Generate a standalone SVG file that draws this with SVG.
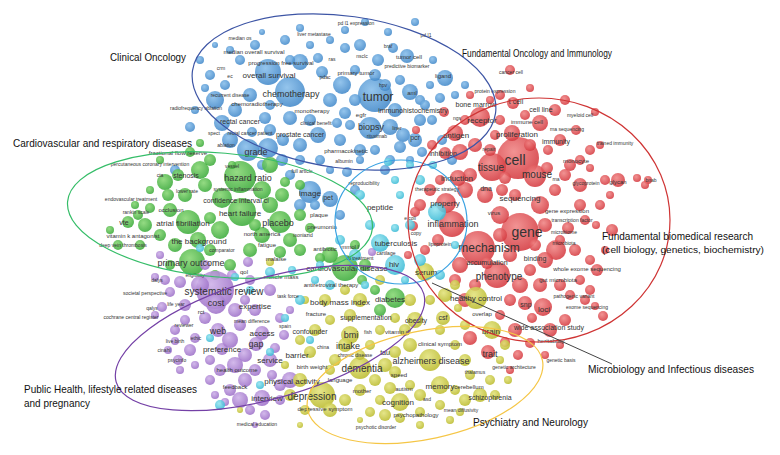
<svg xmlns="http://www.w3.org/2000/svg" width="780" height="455" viewBox="0 0 780 455">
<defs>
<radialGradient id="gb" cx="0.4" cy="0.35" r="0.7"><stop offset="0" stop-color="#86bdea"/><stop offset="1" stop-color="#3f86c8"/></radialGradient>
<radialGradient id="gr" cx="0.4" cy="0.35" r="0.7"><stop offset="0" stop-color="#f08484"/><stop offset="1" stop-color="#d3363c"/></radialGradient>
<radialGradient id="gg" cx="0.4" cy="0.35" r="0.7"><stop offset="0" stop-color="#86d672"/><stop offset="1" stop-color="#38a838"/></radialGradient>
<radialGradient id="gp" cx="0.4" cy="0.35" r="0.7"><stop offset="0" stop-color="#cdb0e8"/><stop offset="1" stop-color="#9a6cc6"/></radialGradient>
<radialGradient id="gy" cx="0.4" cy="0.35" r="0.7"><stop offset="0" stop-color="#e2e27a"/><stop offset="1" stop-color="#b9b92a"/></radialGradient>
<radialGradient id="gc" cx="0.4" cy="0.35" r="0.7"><stop offset="0" stop-color="#94e4f0"/><stop offset="1" stop-color="#36b8d4"/></radialGradient>
</defs>
<style>
.b{fill:url(#gb);fill-opacity:.88}
.r{fill:url(#gr);fill-opacity:.88}
.g{fill:url(#gg);fill-opacity:.88}
.p{fill:url(#gp);fill-opacity:.88}
.y{fill:url(#gy);fill-opacity:.88}
.c{fill:url(#gc);fill-opacity:.88}
text{font-family:"Liberation Sans",Arial,sans-serif;fill:#333;text-anchor:middle}
.t5{font-size:5px}.t6{font-size:6px}.t7{font-size:7px}.t8{font-size:8px}.t9{font-size:9px}.t10{font-size:10px}.t12{font-size:12px}.t14{font-size:14px}
.cl{font-family:"Liberation Sans",Arial,sans-serif;font-size:10.5px;fill:#111;text-anchor:start}
.el{fill:none;stroke-width:1.2}
</style>
<rect width="780" height="455" fill="#ffffff"/>

<g id="circles-blue">
<circle class="b" cx="268" cy="72" r="13"/><circle class="b" cx="290" cy="92" r="15"/><circle class="b" cx="375" cy="95" r="17"/><circle class="b" cx="342" cy="85" r="9"/><circle class="b" cx="322" cy="72" r="6"/><circle class="b" cx="300" cy="62" r="8"/><circle class="b" cx="345" cy="48" r="5"/><circle class="b" cx="360" cy="45" r="6"/><circle class="b" cx="345" cy="30" r="4"/><circle class="b" cx="300" cy="28" r="4"/><circle class="b" cx="407" cy="56" r="7"/><circle class="b" cx="393" cy="48" r="5"/><circle class="b" cx="445" cy="78" r="8"/><circle class="b" cx="410" cy="92" r="8"/><circle class="b" cx="400" cy="80" r="5"/><circle class="b" cx="420" cy="100" r="5"/><circle class="b" cx="378" cy="60" r="6"/><circle class="b" cx="355" cy="70" r="5"/><circle class="b" cx="330" cy="100" r="7"/><circle class="b" cx="345" cy="113" r="6"/><circle class="b" cx="370" cy="128" r="11"/><circle class="b" cx="390" cy="127" r="8"/><circle class="b" cx="403" cy="135" r="7"/><circle class="b" cx="415" cy="140" r="7"/><circle class="b" cx="432" cy="120" r="5"/><circle class="b" cx="395" cy="110" r="7"/><circle class="b" cx="425" cy="105" r="5"/><circle class="b" cx="360" cy="150" r="6"/><circle class="b" cx="340" cy="140" r="6"/><circle class="b" cx="318" cy="135" r="8"/><circle class="b" cx="300" cy="145" r="7"/><circle class="b" cx="283" cy="140" r="6"/><circle class="b" cx="268" cy="148" r="10"/><circle class="b" cx="248" cy="150" r="11"/><circle class="b" cx="230" cy="140" r="8"/><circle class="b" cx="222" cy="123" r="8"/><circle class="b" cx="215" cy="100" r="9"/><circle class="b" cx="235" cy="110" r="7"/><circle class="b" cx="250" cy="95" r="7"/><circle class="b" cx="225" cy="85" r="5"/><circle class="b" cx="210" cy="75" r="5"/><circle class="b" cx="200" cy="60" r="4"/><circle class="b" cx="240" cy="60" r="5"/><circle class="b" cx="255" cy="45" r="5"/><circle class="b" cx="285" cy="40" r="5"/><circle class="b" cx="310" cy="45" r="4"/><circle class="b" cx="318" cy="58" r="5"/><circle class="b" cx="375" cy="75" r="6"/><circle class="b" cx="385" cy="85" r="6"/><circle class="b" cx="355" cy="100" r="6"/><circle class="b" cx="337" cy="123" r="5"/><circle class="b" cx="310" cy="120" r="6"/><circle class="b" cx="290" cy="118" r="7"/><circle class="b" cx="265" cy="118" r="6"/><circle class="b" cx="270" cy="105" r="5"/><circle class="b" cx="300" cy="160" r="5"/><circle class="b" cx="320" cy="160" r="5"/><circle class="b" cx="330" cy="170" r="4"/><circle class="b" cx="347" cy="172" r="5"/><circle class="b" cx="290" cy="175" r="5"/><circle class="b" cx="310" cy="192" r="11"/><circle class="b" cx="330" cy="199" r="8"/><circle class="b" cx="300" cy="205" r="6"/><circle class="b" cx="315" cy="205" r="5"/><circle class="b" cx="282" cy="160" r="6"/><circle class="b" cx="262" cy="165" r="5"/><circle class="b" cx="375" cy="150" r="5"/><circle class="b" cx="390" cy="160" r="5"/><circle class="b" cx="400" cy="147" r="6"/><circle class="b" cx="410" cy="160" r="4"/><circle class="b" cx="350" cy="125" r="5"/><circle class="b" cx="205" cy="88" r="4"/><circle class="b" cx="195" cy="110" r="4"/><circle class="b" cx="190" cy="127" r="5"/><circle class="b" cx="430" cy="85" r="4"/><circle class="b" cx="455" cy="95" r="4"/><circle class="b" cx="465" cy="85" r="4"/><circle class="b" cx="440" cy="98" r="5"/><circle class="b" cx="420" cy="120" r="6"/><circle class="b" cx="442" cy="140" r="5"/><circle class="b" cx="452" cy="160" r="5"/><circle class="b" cx="422" cy="152" r="5"/><circle class="b" cx="385" cy="170" r="5"/><circle class="b" cx="355" cy="190" r="5"/><circle class="b" cx="340" cy="215" r="5"/><circle class="b" cx="290" cy="60" r="5"/><circle class="b" cx="230" cy="50" r="4"/><circle class="b" cx="215" cy="45" r="3"/><circle class="b" cx="330" cy="40" r="4"/><circle class="b" cx="415" cy="22" r="4"/><circle class="b" cx="388" cy="32" r="4"/><circle class="b" cx="270" cy="130" r="6"/><circle class="b" cx="252" cy="132" r="5"/><circle class="b" cx="365" cy="22" r="4"/><circle class="b" cx="175" cy="170" r="5"/><circle class="b" cx="262" cy="32" r="3"/><circle class="b" cx="433" cy="60" r="4"/><circle class="b" cx="360" cy="160" r="4"/>
</g>

<g id="circles-red">
<circle class="r" cx="518" cy="158" r="21"/><circle class="r" cx="520" cy="232" r="19"/><circle class="r" cx="478" cy="248" r="17"/><circle class="r" cx="492" cy="167" r="14"/><circle class="r" cx="535" cy="176" r="11"/><circle class="r" cx="497" cy="275" r="13"/><circle class="r" cx="480" cy="117" r="10"/><circle class="r" cx="452" cy="224" r="13"/><circle class="r" cx="446" cy="203" r="10"/><circle class="r" cx="556" cy="250" r="10"/><circle class="r" cx="540" cy="205" r="9"/><circle class="r" cx="512" cy="133" r="8"/><circle class="r" cx="455" cy="133" r="8"/><circle class="r" cx="543" cy="307" r="9"/><circle class="r" cx="488" cy="352" r="7"/><circle class="r" cx="513" cy="103" r="6"/><circle class="r" cx="540" cy="123" r="8"/><circle class="r" cx="555" cy="110" r="6"/><circle class="r" cx="525" cy="115" r="5"/><circle class="r" cx="500" cy="95" r="5"/><circle class="r" cx="470" cy="95" r="4"/><circle class="r" cx="510" cy="70" r="5"/><circle class="r" cx="530" cy="88" r="4"/><circle class="r" cx="565" cy="100" r="5"/><circle class="r" cx="595" cy="112" r="4"/><circle class="r" cx="576" cy="130" r="5"/><circle class="r" cx="560" cy="140" r="6"/><circle class="r" cx="590" cy="150" r="5"/><circle class="r" cx="580" cy="160" r="5"/><circle class="r" cx="570" cy="165" r="6"/><circle class="r" cx="590" cy="168" r="4"/><circle class="r" cx="565" cy="175" r="6"/><circle class="r" cx="580" cy="185" r="7"/><circle class="r" cx="605" cy="180" r="5"/><circle class="r" cx="618" cy="180" r="7"/><circle class="r" cx="637" cy="178" r="4"/><circle class="r" cx="648" cy="180" r="4"/><circle class="r" cx="580" cy="205" r="6"/><circle class="r" cx="600" cy="205" r="5"/><circle class="r" cx="585" cy="220" r="5"/><circle class="r" cx="596" cy="225" r="4"/><circle class="r" cx="568" cy="228" r="6"/><circle class="r" cx="560" cy="240" r="5"/><circle class="r" cx="575" cy="250" r="6"/><circle class="r" cx="590" cy="260" r="5"/><circle class="r" cx="597" cy="270" r="6"/><circle class="r" cx="580" cy="280" r="5"/><circle class="r" cx="560" cy="285" r="6"/><circle class="r" cx="570" cy="295" r="5"/><circle class="r" cx="585" cy="300" r="5"/><circle class="r" cx="595" cy="306" r="4"/><circle class="r" cx="603" cy="316" r="5"/><circle class="r" cx="565" cy="320" r="6"/><circle class="r" cx="550" cy="330" r="7"/><circle class="r" cx="532" cy="318" r="5"/><circle class="r" cx="525" cy="303" r="7"/><circle class="r" cx="510" cy="300" r="6"/><circle class="r" cx="520" cy="285" r="8"/><circle class="r" cx="540" cy="285" r="7"/><circle class="r" cx="530" cy="270" r="6"/><circle class="r" cx="545" cy="260" r="8"/><circle class="r" cx="535" cy="245" r="6"/><circle class="r" cx="545" cy="225" r="7"/><circle class="r" cx="500" cy="215" r="9"/><circle class="r" cx="485" cy="195" r="8"/><circle class="r" cx="502" cy="190" r="6"/><circle class="r" cx="515" cy="195" r="6"/><circle class="r" cx="465" cy="190" r="8"/><circle class="r" cx="470" cy="175" r="7"/><circle class="r" cx="458" cy="178" r="8"/><circle class="r" cx="440" cy="180" r="5"/><circle class="r" cx="430" cy="190" r="6"/><circle class="r" cx="420" cy="205" r="6"/><circle class="r" cx="460" cy="152" r="8"/><circle class="r" cx="475" cy="145" r="7"/><circle class="r" cx="490" cy="150" r="6"/><circle class="r" cx="445" cy="153" r="6"/><circle class="r" cx="432" cy="145" r="5"/><circle class="r" cx="500" cy="235" r="7"/><circle class="r" cx="460" cy="265" r="8"/><circle class="r" cx="475" cy="285" r="6"/><circle class="r" cx="465" cy="300" r="7"/><circle class="r" cx="455" cy="280" r="6"/><circle class="r" cx="487" cy="263" r="6"/><circle class="r" cx="510" cy="255" r="7"/><circle class="r" cx="500" cy="315" r="5"/><circle class="r" cx="515" cy="330" r="7"/><circle class="r" cx="530" cy="343" r="5"/><circle class="r" cx="505" cy="342" r="5"/><circle class="r" cx="470" cy="338" r="7"/><circle class="r" cx="547" cy="168" r="6"/><circle class="r" cx="555" cy="190" r="6"/><circle class="r" cx="530" cy="145" r="6"/><circle class="r" cx="548" cy="150" r="5"/><circle class="r" cx="505" cy="178" r="6"/><circle class="r" cx="425" cy="250" r="5"/><circle class="r" cx="438" cy="240" r="6"/><circle class="r" cx="408" cy="255" r="4"/><circle class="r" cx="415" cy="212" r="5"/><circle class="r" cx="413" cy="226" r="5"/><circle class="r" cx="500" cy="120" r="5"/><circle class="r" cx="495" cy="135" r="5"/><circle class="r" cx="465" cy="120" r="5"/><circle class="r" cx="490" cy="100" r="4"/><circle class="r" cx="444" cy="112" r="5"/><circle class="r" cx="416" cy="130" r="4"/><circle class="r" cx="518" cy="355" r="5"/><circle class="r" cx="545" cy="355" r="4"/><circle class="r" cx="560" cy="345" r="4"/><circle class="r" cx="510" cy="370" r="4"/><circle class="r" cx="600" cy="145" r="4"/><circle class="r" cx="645" cy="185" r="4"/><circle class="r" cx="610" cy="195" r="4"/><circle class="r" cx="590" cy="290" r="5"/><circle class="r" cx="612" cy="230" r="6"/><circle class="r" cx="605" cy="250" r="4"/>
</g>

<g id="circles-green">
<circle class="g" cx="240" cy="177" r="16"/><circle class="g" cx="242" cy="212" r="14"/><circle class="g" cx="280" cy="222" r="11"/><circle class="g" cx="188" cy="222" r="12"/><circle class="g" cx="222" cy="198" r="10"/><circle class="g" cx="192" cy="262" r="13"/><circle class="g" cx="198" cy="240" r="8"/><circle class="g" cx="128" cy="222" r="6"/><circle class="g" cx="345" cy="268" r="13"/><circle class="g" cx="395" cy="298" r="10"/><circle class="g" cx="165" cy="182" r="8"/><circle class="g" cx="178" cy="175" r="6"/><circle class="g" cx="200" cy="170" r="9"/><circle class="g" cx="210" cy="160" r="6"/><circle class="g" cx="190" cy="152" r="5"/><circle class="g" cx="160" cy="160" r="4"/><circle class="g" cx="205" cy="185" r="7"/><circle class="g" cx="270" cy="165" r="8"/><circle class="g" cx="262" cy="190" r="9"/><circle class="g" cx="282" cy="195" r="7"/><circle class="g" cx="270" cy="205" r="8"/><circle class="g" cx="262" cy="235" r="8"/><circle class="g" cx="290" cy="240" r="7"/><circle class="g" cx="300" cy="250" r="6"/><circle class="g" cx="280" cy="252" r="6"/><circle class="g" cx="250" cy="250" r="7"/><circle class="g" cx="220" cy="230" r="9"/><circle class="g" cx="210" cy="250" r="6"/><circle class="g" cx="175" cy="245" r="7"/><circle class="g" cx="160" cy="235" r="6"/><circle class="g" cx="145" cy="225" r="7"/><circle class="g" cx="170" cy="210" r="7"/><circle class="g" cx="150" cy="208" r="5"/><circle class="g" cx="135" cy="205" r="4"/><circle class="g" cx="110" cy="230" r="4"/><circle class="g" cx="118" cy="245" r="5"/><circle class="g" cx="140" cy="245" r="5"/><circle class="g" cx="138" cy="215" r="5"/><circle class="g" cx="168" cy="195" r="6"/><circle class="g" cx="185" cy="195" r="7"/><circle class="g" cx="255" cy="225" r="6"/><circle class="g" cx="300" cy="215" r="6"/><circle class="g" cx="310" cy="228" r="5"/><circle class="g" cx="330" cy="255" r="8"/><circle class="g" cx="355" cy="245" r="5"/><circle class="g" cx="365" cy="265" r="6"/><circle class="g" cx="362" cy="280" r="5"/><circle class="g" cx="380" cy="310" r="6"/><circle class="g" cx="375" cy="290" r="5"/><circle class="g" cx="320" cy="258" r="5"/><circle class="g" cx="230" cy="265" r="6"/><circle class="g" cx="215" cy="275" r="5"/><circle class="g" cx="170" cy="265" r="5"/><circle class="g" cx="210" cy="218" r="6"/><circle class="g" cx="150" cy="190" r="4"/><circle class="g" cx="300" cy="185" r="5"/><circle class="g" cx="285" cy="182" r="5"/><circle class="g" cx="232" cy="165" r="4"/><circle class="g" cx="200" cy="143" r="4"/>
</g>

<g id="circles-purple">
<circle class="p" cx="215" cy="290" r="19"/><circle class="p" cx="216" cy="304" r="10"/><circle class="p" cx="218" cy="330" r="7"/><circle class="p" cx="262" cy="333" r="7"/><circle class="p" cx="256" cy="344" r="7"/><circle class="p" cx="222" cy="349" r="6"/><circle class="p" cx="262" cy="398" r="8"/><circle class="p" cx="290" cy="380" r="8"/><circle class="p" cx="200" cy="285" r="9"/><circle class="p" cx="180" cy="282" r="6"/><circle class="p" cx="165" cy="280" r="5"/><circle class="p" cx="155" cy="277" r="4"/><circle class="p" cx="170" cy="292" r="5"/><circle class="p" cx="185" cy="305" r="6"/><circle class="p" cx="162" cy="307" r="5"/><circle class="p" cx="155" cy="315" r="4"/><circle class="p" cx="185" cy="320" r="5"/><circle class="p" cx="175" cy="330" r="5"/><circle class="p" cx="195" cy="338" r="5"/><circle class="p" cx="175" cy="341" r="4"/><circle class="p" cx="168" cy="350" r="4"/><circle class="p" cx="178" cy="360" r="5"/><circle class="p" cx="190" cy="350" r="6"/><circle class="p" cx="205" cy="318" r="6"/><circle class="p" cx="235" cy="310" r="7"/><circle class="p" cx="245" cy="300" r="5"/><circle class="p" cx="255" cy="310" r="6"/><circle class="p" cx="240" cy="325" r="6"/><circle class="p" cx="230" cy="340" r="8"/><circle class="p" cx="245" cy="355" r="7"/><circle class="p" cx="235" cy="365" r="8"/><circle class="p" cx="220" cy="370" r="6"/><circle class="p" cx="210" cy="380" r="5"/><circle class="p" cx="245" cy="380" r="7"/><circle class="p" cx="255" cy="370" r="6"/><circle class="p" cx="270" cy="360" r="7"/><circle class="p" cx="275" cy="348" r="5"/><circle class="p" cx="280" cy="385" r="6"/><circle class="p" cx="272" cy="375" r="5"/><circle class="p" cx="230" cy="390" r="6"/><circle class="p" cx="240" cy="400" r="8"/><circle class="p" cx="250" cy="410" r="5"/><circle class="p" cx="225" cy="402" r="4"/><circle class="p" cx="215" cy="395" r="4"/><circle class="p" cx="265" cy="415" r="5"/><circle class="p" cx="280" cy="400" r="5"/><circle class="p" cx="210" cy="360" r="5"/><circle class="p" cx="195" cy="365" r="4"/><circle class="p" cx="280" cy="318" r="5"/><circle class="p" cx="270" cy="290" r="6"/><circle class="p" cx="250" cy="280" r="5"/><circle class="p" cx="232" cy="275" r="5"/><circle class="p" cx="205" cy="265" r="5"/><circle class="p" cx="180" cy="370" r="4"/><circle class="p" cx="255" cy="425" r="3"/><circle class="p" cx="284" cy="335" r="5"/><circle class="p" cx="290" cy="310" r="4"/><circle class="p" cx="160" cy="255" r="4"/><circle class="p" cx="372" cy="252" r="4"/><circle class="p" cx="248" cy="262" r="5"/>
</g>

<g id="circles-yellow">
<circle class="y" cx="476" cy="298" r="11"/><circle class="y" cx="360" cy="368" r="11"/><circle class="y" cx="322" cy="395" r="13"/><circle class="y" cx="430" cy="360" r="11"/><circle class="y" cx="400" cy="402" r="9"/><circle class="y" cx="350" cy="335" r="9"/><circle class="y" cx="492" cy="330" r="9"/><circle class="y" cx="440" cy="385" r="9"/><circle class="y" cx="345" cy="345" r="7"/><circle class="y" cx="425" cy="272" r="9"/><circle class="y" cx="415" cy="320" r="8"/><circle class="y" cx="443" cy="318" r="7"/><circle class="y" cx="300" cy="380" r="7"/><circle class="y" cx="290" cy="395" r="6"/><circle class="y" cx="305" cy="410" r="5"/><circle class="y" cx="330" cy="410" r="7"/><circle class="y" cx="345" cy="400" r="6"/><circle class="y" cx="360" cy="390" r="6"/><circle class="y" cx="375" cy="380" r="6"/><circle class="y" cx="385" cy="365" r="7"/><circle class="y" cx="395" cy="352" r="6"/><circle class="y" cx="410" cy="345" r="7"/><circle class="y" cx="405" cy="330" r="6"/><circle class="y" cx="395" cy="318" r="5"/><circle class="y" cx="380" cy="330" r="5"/><circle class="y" cx="370" cy="345" r="5"/><circle class="y" cx="335" cy="360" r="6"/><circle class="y" cx="310" cy="352" r="6"/><circle class="y" cx="300" cy="340" r="5"/><circle class="y" cx="315" cy="330" r="6"/><circle class="y" cx="330" cy="320" r="5"/><circle class="y" cx="350" cy="315" r="6"/><circle class="y" cx="325" cy="300" r="6"/><circle class="y" cx="305" cy="300" r="4"/><circle class="y" cx="360" cy="300" r="7"/><circle class="y" cx="345" cy="290" r="5"/><circle class="y" cx="380" cy="280" r="5"/><circle class="y" cx="410" cy="300" r="6"/><circle class="y" cx="430" cy="300" r="5"/><circle class="y" cx="445" cy="295" r="7"/><circle class="y" cx="455" cy="285" r="5"/><circle class="y" cx="440" cy="330" r="5"/><circle class="y" cx="455" cy="345" r="5"/><circle class="y" cx="465" cy="360" r="6"/><circle class="y" cx="470" cy="375" r="5"/><circle class="y" cx="490" cy="380" r="5"/><circle class="y" cx="480" cy="395" r="7"/><circle class="y" cx="495" cy="395" r="5"/><circle class="y" cx="465" cy="400" r="6"/><circle class="y" cx="455" cy="390" r="5"/><circle class="y" cx="420" cy="395" r="6"/><circle class="y" cx="410" cy="385" r="5"/><circle class="y" cx="390" cy="388" r="6"/><circle class="y" cx="380" cy="400" r="5"/><circle class="y" cx="370" cy="412" r="5"/><circle class="y" cx="385" cy="415" r="6"/><circle class="y" cx="400" cy="418" r="5"/><circle class="y" cx="420" cy="412" r="5"/><circle class="y" cx="440" cy="405" r="5"/><circle class="y" cx="460" cy="412" r="4"/><circle class="y" cx="450" cy="420" r="4"/><circle class="y" cx="420" cy="425" r="4"/><circle class="y" cx="360" cy="420" r="3"/><circle class="y" cx="505" cy="345" r="5"/><circle class="y" cx="500" cy="360" r="4"/><circle class="y" cx="508" cy="380" r="4"/><circle class="y" cx="465" cy="325" r="5"/><circle class="y" cx="458" cy="308" r="4"/><circle class="y" cx="395" cy="372" r="6"/><circle class="y" cx="300" cy="425" r="3"/><circle class="y" cx="285" cy="365" r="4"/><circle class="y" cx="330" cy="370" r="5"/><circle class="y" cx="360" cy="355" r="5"/><circle class="y" cx="240" cy="410" r="3"/><circle class="y" cx="270" cy="262" r="4"/>
</g>

<g id="circles-cyan">
<circle class="c" cx="395" cy="265" r="10"/><circle class="c" cx="380" cy="243" r="9"/><circle class="c" cx="437" cy="212" r="9"/><circle class="c" cx="420" cy="180" r="5"/><circle class="c" cx="395" cy="180" r="4"/><circle class="c" cx="410" cy="165" r="4"/><circle class="c" cx="360" cy="195" r="5"/><circle class="c" cx="370" cy="225" r="5"/><circle class="c" cx="340" cy="240" r="5"/><circle class="c" cx="355" cy="255" r="6"/><circle class="c" cx="330" cy="285" r="5"/><circle class="c" cx="315" cy="280" r="4"/><circle class="c" cx="292" cy="270" r="4"/><circle class="c" cx="270" cy="272" r="5"/><circle class="c" cx="235" cy="277" r="4"/><circle class="c" cx="250" cy="290" r="4"/><circle class="c" cx="300" cy="300" r="5"/><circle class="c" cx="285" cy="318" r="4"/><circle class="c" cx="310" cy="340" r="4"/><circle class="c" cx="270" cy="352" r="4"/><circle class="c" cx="220" cy="405" r="5"/><circle class="c" cx="260" cy="385" r="4"/><circle class="c" cx="210" cy="338" r="4"/><circle class="c" cx="200" cy="248" r="4"/><circle class="c" cx="410" cy="225" r="5"/><circle class="c" cx="420" cy="260" r="6"/><circle class="c" cx="440" cy="275" r="5"/><circle class="c" cx="405" cy="280" r="4"/><circle class="c" cx="365" cy="285" r="4"/><circle class="c" cx="388" cy="162" r="4"/><circle class="c" cx="400" cy="195" r="4"/><circle class="c" cx="433" cy="165" r="4"/><circle class="c" cx="320" cy="265" r="4"/><circle class="c" cx="395" cy="228" r="4"/><circle class="c" cx="455" cy="245" r="4"/>
</g>

<g id="labels">
<text class="t5" x="356" y="25">pd l1 expression</text>
<text class="t5" x="314" y="36">liver metastase</text>
<text class="t5" x="240" y="40">median os</text>
<text class="t5" x="426" y="37">pd l1</text>
<text class="t5" x="388" y="48">braf</text>
<text class="t6" x="254" y="54">median overall survival</text>
<text class="t5" x="362" y="58">nsclc</text>
<text class="t6" x="409" y="59">tumor cell</text>
<text class="t5" x="332" y="61">ras</text>
<text class="t6" x="281" y="65">progression free survival</text>
<text class="t5" x="407" y="68">predictive biomarker</text>
<text class="t5" x="221" y="70">crm</text>
<text class="t6" x="356" y="75">primary tumor</text>
<text class="t5" x="230" y="78">ec</text>
<text class="t8" x="269" y="78">overall survival</text>
<text class="t5" x="325" y="79">pdac</text>
<text class="t6" x="443" y="78">ligand</text>
<text class="t5" x="383" y="87">hpv</text>
<text class="t6" x="412" y="95">aml</text>
<text class="t9" x="291" y="97">chemotherapy</text>
<text class="t12" x="378" y="101">tumor</text>
<text class="t5" x="230" y="97">recurrent disease</text>
<text class="t5" x="196" y="110">radiofrequency ablation</text>
<text class="t6" x="257" y="106">chemoradiotherapy</text>
<text class="t6" x="312" y="113">monotherapy</text>
<text class="t7" x="413" y="113">immunohistochemistry</text>
<text class="t6" x="361" y="117">egfr</text>
<text class="t5" x="316" y="125">clinical benefit</text>
<text class="t7" x="240" y="124">rectal cancer</text>
<text class="t9" x="371" y="130">biopsy</text>
<text class="t5" x="397" y="130">liner</text>
<text class="t5" x="214" y="135">spect</text>
<text class="t5" x="250" y="135">rectal cancer patient</text>
<text class="t7" x="300" y="137">prostate cancer</text>
<text class="t5" x="377" y="138">rituximab</text>
<text class="t7" x="415" y="140">pcr</text>
<text class="t5" x="226" y="147">ablation</text>
<text class="t9" x="256" y="155">grade</text>
<text class="t6" x="346" y="153">pharmacokinetic</text>
<text class="t5" x="344" y="163">albumin</text>
<text class="t5" x="302" y="173">full article</text>
<text class="t5" x="232" y="168">vessel</text>
<text class="t8" x="310" y="196">image</text>
<text class="t7" x="328" y="200">pet</text>

<text class="t5" x="511" y="74">cancer cell</text>
<text class="t5" x="495" y="93">protein expression</text>
<text class="t7" x="476" y="107">bone marrow</text>
<text class="t7" x="516" y="104">t cell</text>
<text class="t7" x="541" y="112">cell line</text>
<text class="t5" x="580" y="117">myeloid cell</text>
<text class="t8" x="482" y="123">receptor</text>
<text class="t6" x="527" y="124">immune cell</text>
<text class="t5" x="457" y="120">ngs</text>
<text class="t5" x="567" y="131">rna sequencing</text>
<text class="t8" x="517" y="137">proliferation</text>
<text class="t8" x="456" y="138">antigen</text>
<text class="t7" x="556" y="144">immunity</text>
<text class="t5" x="615" y="145">trained immunity</text>
<text class="t5" x="489" y="151">repair</text>
<text class="t7" x="443" y="156">inhibition</text>
<text class="t14" x="515" y="165">cell</text>
<text class="t10" x="491" y="171">tissue</text>
<text class="t6" x="576" y="163">monocyte</text>
<text class="t10" x="537" y="178">mouse</text>
<text class="t5" x="556" y="181">rna</text>
<text class="t8" x="457" y="181">induction</text>
<text class="t5" x="586" y="185">glycoprotein</text>
<text class="t6" x="618" y="184">glycan</text>
<text class="t5" x="651" y="182">bnab</text>
<text class="t5" x="437" y="191">therapeutic strategy</text>
<text class="t7" x="486" y="191">dna</text>
<text class="t8" x="520" y="201">sequencing</text>
<text class="t8" x="445" y="206">property</text>
<text class="t6" x="567" y="213">gene expression</text>
<text class="t6" x="494" y="215">virus</text>
<text class="t5" x="572" y="222">transcription factor</text>
<text class="t9" x="453" y="227">inflammation</text>
<text class="t14" x="527" y="237">gene</text>
<text class="t5" x="564" y="234">microbiome</text>
<text class="t5" x="410" y="220">e coli</text>
<text class="t5" x="416" y="235">copy</text>
<text class="t5" x="564" y="245">microbiota</text>
<text class="t12" x="489" y="252">mechanism</text>
<text class="t5" x="440" y="246">lipoprotein</text>
<text class="t7" x="535" y="261">binding</text>
<text class="t7" x="487" y="265">accumulation</text>
<text class="t6" x="587" y="271">whole exome sequencing</text>
<text class="t10" x="499" y="280">phenotype</text>
<text class="t6" x="558" y="282">gut microbiota</text>
<text class="t5" x="574" y="298">pathogenic variant</text>
<text class="t7" x="526" y="307">snp</text>
<text class="t8" x="544" y="312">loci</text>
<text class="t5" x="587" y="309">exome sequencing</text>
<text class="t7" x="549" y="330">wide association study</text>
<text class="t6" x="551" y="343">heritability</text>
<text class="t5" x="561" y="362">genetic basis</text>
<text class="t9" x="490" y="357">trait</text>

<text class="t5" x="364" y="185">reproducibility</text>
<text class="t8" x="380" y="210">peptide</text>
<text class="t6" x="322" y="229">pneumonia</text>
<text class="t6" x="319" y="217">plaque</text>
<text class="t5" x="303" y="237">isoniazid</text>
<text class="t6" x="325" y="251">antibiotic</text>
<text class="t6" x="350" y="249">mmol l</text>
<text class="t5" x="360" y="260">tb treatment</text>
<text class="t8" x="396" y="246">tuberculosis</text>
<text class="t8" x="394" y="267">hiv</text>
<text class="t5" x="386" y="255">cartilage</text>
<text class="t8" x="426" y="275">serum</text>

<text class="t6" x="178" y="155">fractional flow reserve</text>
<text class="t5" x="150" y="166">percutaneous coronary intervention</text>
<text class="t5" x="160" y="177">cta</text>
<text class="t7" x="186" y="178">stenosis</text>
<text class="t5" x="187" y="193">lower rate</text>
<text class="t5" x="131" y="201">endovascular treatment</text>
<text class="t5" x="136" y="214">rankin scale</text>
<text class="t6" x="171" y="212">occlusion</text>
<text class="t7" x="124" y="225">vte</text>
<text class="t8" x="183" y="226">atrial fibrillation</text>
<text class="t6" x="133" y="238">vitamin k antagonist</text>
<text class="t5" x="123" y="247">deep vein thrombosis</text>
<text class="t8" x="199" y="244">the background</text>
<text class="t5" x="222" y="252">comparator</text>
<text class="t9" x="191" y="266">primary outcome</text>
<text class="t9" x="248" y="181">hazard ratio</text>
<text class="t5" x="238" y="191">systemic inflammation</text>
<text class="t7" x="236" y="203">confidence interval ci</text>
<text class="t8" x="240" y="216">heart failure</text>
<text class="t9" x="278" y="226">placebo</text>
<text class="t6" x="262" y="236">north america</text>
<text class="t6" x="267" y="247">fatigue</text>
<text class="t8" x="347" y="271">cardiovascular disease</text>
<text class="t8" x="390" y="302">diabetes</text>

<text class="t5" x="157" y="282">dalys</text>
<text class="t5" x="195" y="277">eligibility</text>
<text class="t5" x="145" y="295">societal perspective</text>
<text class="t10" x="224" y="295">systematic review</text>
<text class="t5" x="176" y="306">life year</text>
<text class="t5" x="152" y="310">qalys</text>
<text class="t9" x="216" y="306">cost</text>
<text class="t8" x="255" y="309">expertise</text>
<text class="t6" x="201" y="314">rct</text>
<text class="t5" x="131" y="319">cochrane central register</text>
<text class="t5" x="184" y="327">reviewer</text>
<text class="t5" x="252" y="323">mean difference</text>
<text class="t9" x="218" y="334">web</text>
<text class="t8" x="262" y="336">access</text>
<text class="t5" x="196" y="340">ethic</text>
<text class="t5" x="175" y="343">live birth</text>
<text class="t9" x="256" y="347">gap</text>
<text class="t8" x="222" y="352">preference</text>
<text class="t5" x="164" y="352">cinahl</text>
<text class="t8" x="270" y="363">service</text>
<text class="t5" x="177" y="362">psycinfo</text>
<text class="t6" x="237" y="372">health outcome</text>
<text class="t6" x="235" y="389">feedback</text>
<text class="t8" x="267" y="401">interview</text>
<text class="t5" x="257" y="426">medical education</text>
<text class="t6" x="244" y="274">qol</text>
<text class="t6" x="276" y="261">malaise</text>
<text class="t6" x="281" y="279">muscle mass</text>
<text class="t5" x="288" y="298">task force</text>

<text class="t6" x="331" y="287">antiretroviral therapy</text>
<text class="t8" x="340" y="305">body mass index</text>
<text class="t6" x="316" y="316">fracture</text>
<text class="t7" x="366" y="320">supplementation</text>
<text class="t5" x="285" y="328">spain</text>
<text class="t7" x="310" y="334">confounder</text>
<text class="t9" x="351" y="338">bmi</text>
<text class="t5" x="368" y="334">fish</text>
<text class="t9" x="348" y="349">intake</text>
<text class="t5" x="323" y="349">china</text>
<text class="t5" x="355" y="357">chronic disease</text>
<text class="t8" x="297" y="358">barrier</text>
<text class="t6" x="312" y="369">birth weight</text>
<text class="t10" x="362" y="372">dementia</text>
<text class="t8" x="292" y="384">physical activity</text>
<text class="t6" x="340" y="382">language</text>
<text class="t6" x="362" y="393">mother</text>
<text class="t10" x="312" y="400">depression</text>
<text class="t6" x="325" y="411">depressive symptom</text>
<text class="t5" x="376" y="429">psychotic disorder</text>
<text class="t8" x="476" y="301">healthy control</text>
<text class="t6" x="482" y="316">overlap</text>
<text class="t7" x="416" y="323">obesity</text>
<text class="t7" x="443" y="320">csf</text>
<text class="t6" x="397" y="334">vitamin d</text>
<text class="t8" x="491" y="334">brain</text>
<text class="t6" x="440" y="346">clinical symptom</text>
<text class="t7" x="385" y="355">tau</text>
<text class="t9" x="431" y="364">alzheimers disease</text>
<text class="t5" x="514" y="369">genetic architecture</text>
<text class="t5" x="475" y="374">thalamus</text>
<text class="t6" x="399" y="377">speed</text>
<text class="t8" x="440" y="389">memory</text>
<text class="t6" x="469" y="389">cerebellum</text>
<text class="t6" x="404" y="391">autism</text>
<text class="t7" x="490" y="400">schizophrenia</text>
<text class="t5" x="427" y="401">asd</text>
<text class="t8" x="398" y="405">cognition</text>
<text class="t5" x="461" y="412">mean diffusivity</text>
<text class="t6" x="416" y="417">psychopathology</text>
</g>

<g id="cluster-outlines">
<ellipse class="el" cx="344" cy="92" rx="153" ry="76" transform="rotate(8 344 92)" stroke="#3d55a5"/>
<ellipse class="el" cx="220" cy="215" rx="153" ry="62" transform="rotate(5 220 215)" stroke="#35bd68"/>
<ellipse class="el" cx="401" cy="222" rx="66" ry="62" stroke="#3aa2e2"/>
<ellipse class="el" cx="539" cy="220" rx="131" ry="122" stroke="#cf3434"/>
<ellipse class="el" cx="270" cy="338" rx="160" ry="60" transform="rotate(-16 270 338)" stroke="#7440a6"/>
<ellipse class="el" cx="425" cy="385" rx="120" ry="54" transform="rotate(-12 425 385)" stroke="#f5c646"/>
<line x1="432" y1="283" x2="612" y2="364" stroke="#444" stroke-width="1"/>
</g>

<g id="cluster-labels">
<text class="cl" x="110" y="61" textLength="76" lengthAdjust="spacingAndGlyphs">Clinical Oncology</text>
<text class="cl" x="462" y="57" textLength="150" lengthAdjust="spacingAndGlyphs">Fundamental Oncology and Immunology</text>
<text class="cl" x="13" y="147" textLength="179" lengthAdjust="spacingAndGlyphs">Cardiovascular and respiratory diseases</text>
<text class="cl" x="602" y="240" textLength="151" lengthAdjust="spacingAndGlyphs">Fundamental biomedical research</text>
<text class="cl" x="602" y="253" style="font-size:9.8px" textLength="162" lengthAdjust="spacingAndGlyphs">(cell biology, genetics, biochemistry)</text>
<text class="cl" x="588" y="373" textLength="166" lengthAdjust="spacingAndGlyphs">Microbiology and Infectious diseases</text>
<text class="cl" x="24" y="393" textLength="173" lengthAdjust="spacingAndGlyphs">Public Health, lifestyle  related diseases</text>
<text class="cl" x="24" y="407" textLength="66" lengthAdjust="spacingAndGlyphs">and pregnancy</text>
<text class="cl" x="473" y="426" textLength="115" lengthAdjust="spacingAndGlyphs">Psychiatry and Neurology</text>
</g>
</svg>
